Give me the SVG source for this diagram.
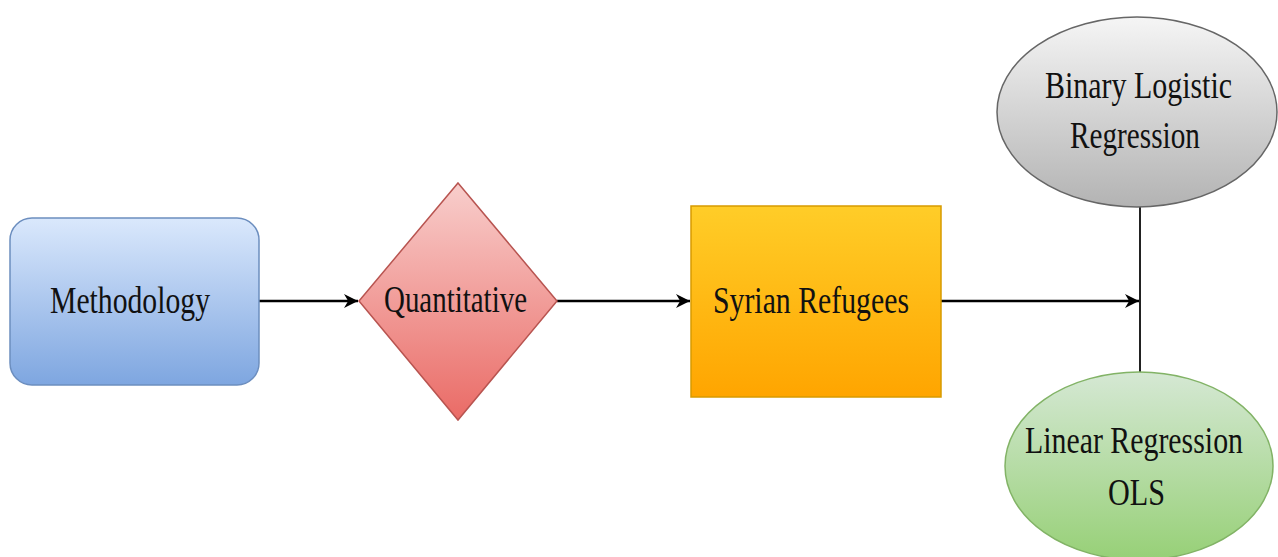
<svg xmlns="http://www.w3.org/2000/svg" width="1278" height="557" viewBox="0 0 1278 557">
<style>
text{font-family:"Liberation Serif","Times New Roman",serif;font-size:38px;fill:#111;}
.edge{stroke:#000;stroke-width:2.5;fill:none;}
</style>
<defs>
<linearGradient id="gBlue" x1="0" y1="0" x2="0" y2="1"><stop offset="0" stop-color="#dae8fc"/><stop offset="1" stop-color="#7ea6e0"/></linearGradient>
<linearGradient id="gRed" x1="0" y1="0" x2="0" y2="1"><stop offset="0" stop-color="#f8cecc"/><stop offset="1" stop-color="#ea6b66"/></linearGradient>
<linearGradient id="gOrange" x1="0" y1="0" x2="0" y2="1"><stop offset="0" stop-color="#ffcd28"/><stop offset="1" stop-color="#ffa500"/></linearGradient>
<linearGradient id="gGray" x1="0" y1="0" x2="0" y2="1"><stop offset="0" stop-color="#f5f5f5"/><stop offset="1" stop-color="#b3b3b3"/></linearGradient>
<linearGradient id="gGreen" x1="0" y1="0" x2="0" y2="1"><stop offset="0" stop-color="#d5e8d4"/><stop offset="1" stop-color="#97d077"/></linearGradient>
<marker id="arr" viewBox="0 0 10 10" refX="10" refY="5" markerWidth="14" markerHeight="15" markerUnits="userSpaceOnUse" orient="auto">
<path d="M0,0 L10,5 L0,10 L3,5 Z" fill="#000"/>
</marker>
</defs>
<g id="connectors">
<line class="edge" x1="259" y1="301" x2="358" y2="301" marker-end="url(#arr)"/>
<line class="edge" x1="557" y1="301" x2="690" y2="301" marker-end="url(#arr)"/>
<line class="edge" x1="941" y1="301" x2="1139" y2="301" marker-end="url(#arr)"/>
<line x1="1140" y1="207" x2="1140" y2="373" stroke="#222" stroke-width="2"/>
</g>
<g id="methodology">
<rect x="10" y="218" width="249" height="167" rx="22" fill="url(#gBlue)" stroke="#6c8ebf" stroke-width="1.5"/>
<text x="50" y="313" textLength="160" lengthAdjust="spacingAndGlyphs">Methodology</text>
</g>
<g id="quantitative">
<polygon points="458,183 557,301 458,420 359,301" fill="url(#gRed)" stroke="#b85450" stroke-width="1.5"/>
<text x="384" y="312" textLength="143" lengthAdjust="spacingAndGlyphs">Quantitative</text>
</g>
<g id="syrian">
<rect x="691" y="206" width="250" height="191" fill="url(#gOrange)" stroke="#d79b00" stroke-width="1.5"/>
<text x="713" y="313" textLength="196" lengthAdjust="spacingAndGlyphs">Syrian Refugees</text>
</g>
<g id="binary">
<ellipse cx="1137" cy="112" rx="140" ry="95" fill="url(#gGray)" stroke="#666" stroke-width="1.5"/>
<text x="1045" y="98" textLength="187" lengthAdjust="spacingAndGlyphs">Binary Logistic</text>
<text x="1070" y="148" textLength="130" lengthAdjust="spacingAndGlyphs">Regression</text>
</g>
<g id="linear">
<ellipse cx="1139" cy="466" rx="134" ry="94" fill="url(#gGreen)" stroke="#82b366" stroke-width="1.5"/>
<text x="1025" y="453" textLength="218" lengthAdjust="spacingAndGlyphs">Linear Regression</text>
<text x="1108" y="505" textLength="57" lengthAdjust="spacingAndGlyphs">OLS</text>
</g>
</svg>
